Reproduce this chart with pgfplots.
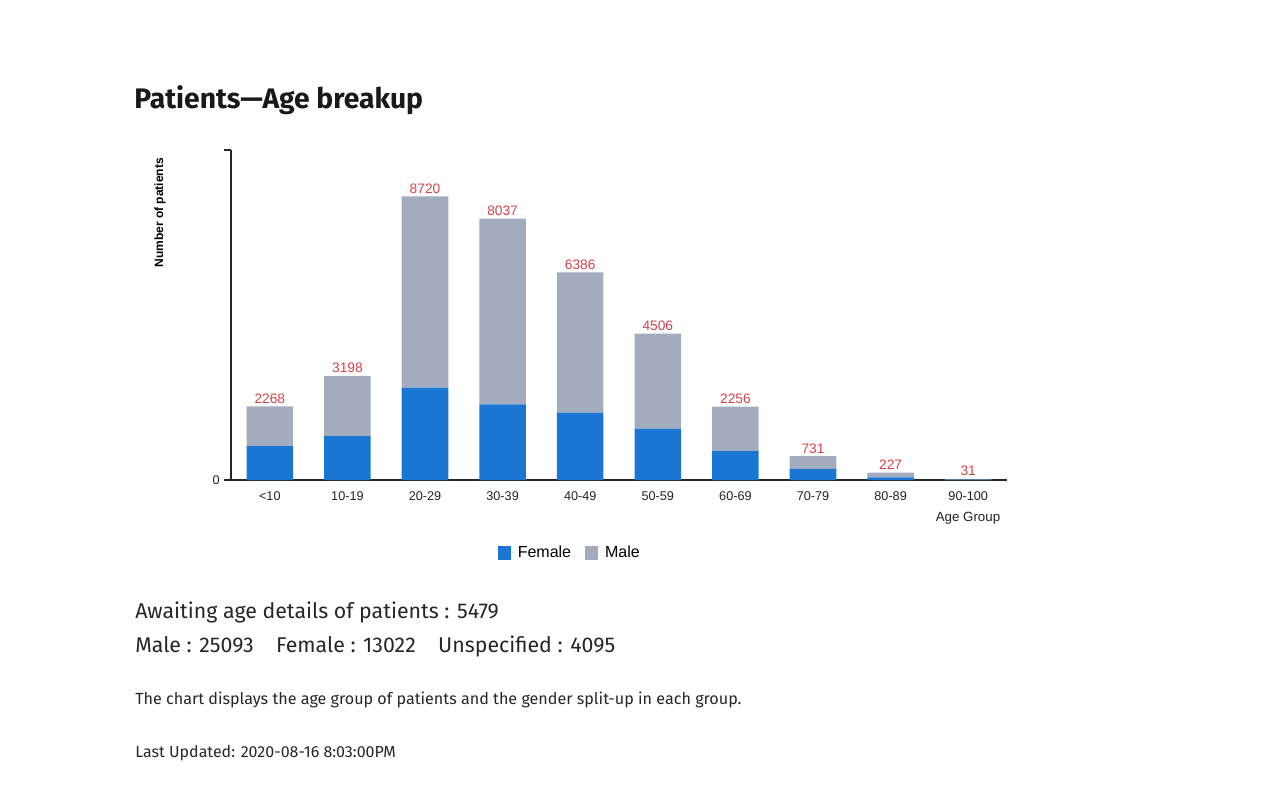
\documentclass[border=0pt]{standalone}
\usepackage{pgfplots}
\pgfplotsset{compat=1.18}
\usepackage{pgfplotstable}
\usepackage{fontspec}
\setmainfont{Fira Sans}
\newfontfamily\arial{Liberation Sans}

\definecolor{femblue}{HTML}{1A76D2}
\definecolor{malegray}{HTML}{A3ACBE}
\definecolor{lblred}{HTML}{D5424A}
\definecolor{txt}{HTML}{222222}

% age groups: female, male, total shown on top
\pgfplotstableread{
x female male total
0 1040 1228 2268
1 1350 1848 3198
2 2840 5880 8720
3 2330 5707 8037
4 2070 4316 6386
5 1580 2926 4506
6 885 1371 2256
7 340 391 731
8 80 147 227
9 10 21 31
}\agedata

\pgfplotsset{agebox/.style={
    at={(173.25pt,-360pt)}, anchor=south west,
    scale only axis,
    width=582pt, height=247.5pt,
    bar width=0.6,
    xmin=-0.5, xmax=9.5,
    ymin=0, ymax=10150,
    clip=false,
}}

\begin{document}
\begin{tikzpicture}
\path (0,0) rectangle (960pt,-602.25pt);

\begin{axis}[
    agebox,
    ybar stacked,
    scaled y ticks=false,
    axis lines*=left,
    axis line style={-, line width=0.9pt, black!85},
    tick align=outside,
    xtick={0,...,9},
    xticklabels={<10,10-19,20-29,30-39,40-49,50-59,60-69,70-79,80-89,90-100},
    x tick style={draw=none},
    extra x ticks={0.5,1.5,...,9.5},
    extra x tick labels={},
    extra x tick style={major tick length=5pt, tick style={line width=0.8pt, black!85}},
    ytick={0,10150},
    yticklabels={0,},
    y tick style={line width=0.8pt, black!85},
    major tick length=5pt,
    tick label style={font=\arial\fontsize{9.5}{11}\selectfont, text=txt},
    xticklabel style={yshift=-0.5pt},
    legend style={at={(0.437,-0.221)}, anchor=center, draw=none, fill=none,
        legend columns=2, font=\arial\fontsize{12}{14}\selectfont,
        /tikz/every even column/.append style={column sep=8.5pt}},
    legend image code/.code={\fill[#1] (0pt,-5pt) rectangle (10pt,5pt); \path (0pt,0pt) -- (13pt,0pt);},
]
\addplot[fill=femblue, draw=none] table[x=x, y=female] {\agedata};
\addlegendentry{Female}
\addplot[fill=malegray, draw=none] table[x=x, y=male] {\agedata};
\addlegendentry{Male}
\end{axis}

% totals above each stack
\begin{axis}[agebox, ybar, hide axis]
\addplot[draw=none, fill=none,
    nodes near coords, point meta=explicit symbolic,
    every node near coord/.append style={anchor=south, font=\arial\fontsize{10.3}{12}\selectfont, text=lblred, inner sep=2pt}]
    table[x=x, y=total, meta=total] {\agedata};
\end{axis}

\begin{scope}[x=0.75pt, y=-0.75pt]
\node[anchor=base west, font=\bfseries\fontsize{21.2}{25}\selectfont, text=black!90, inner sep=0pt] at (134,108) {Patients—Age breakup};
\node[anchor=east, rotate=90, font=\arial\bfseries\fontsize{9}{11}\selectfont, text=black, inner sep=0pt] at (160,158) {Number of patients};
\node[font=\arial\fontsize{10}{12}\selectfont, text=txt, inner sep=0pt] at (968,518) {Age Group};
\node[anchor=base west, font=\fontsize{16}{19}\selectfont, text=black!85, inner sep=0pt] at (135,618) {Awaiting age details of patients : 5479};
\node[anchor=base west, font=\fontsize{16}{19}\selectfont, text=black!85, inner sep=0pt] at (135,652) {Male : 25093\hspace{1.05em}Female : 13022\hspace{1.05em}Unspecified : 4095};
\node[anchor=base west, font=\fontsize{12.1}{14}\selectfont, text=black!85, inner sep=0pt] at (135,704) {The chart displays the age group of patients and the gender split-up in each group.};
\node[anchor=base west, font=\fontsize{12}{14}\selectfont, text=black!85, inner sep=0pt] at (135,757) {Last Updated: 2020-08-16 8:03:00PM};
\end{scope}
\end{tikzpicture}
\end{document}
